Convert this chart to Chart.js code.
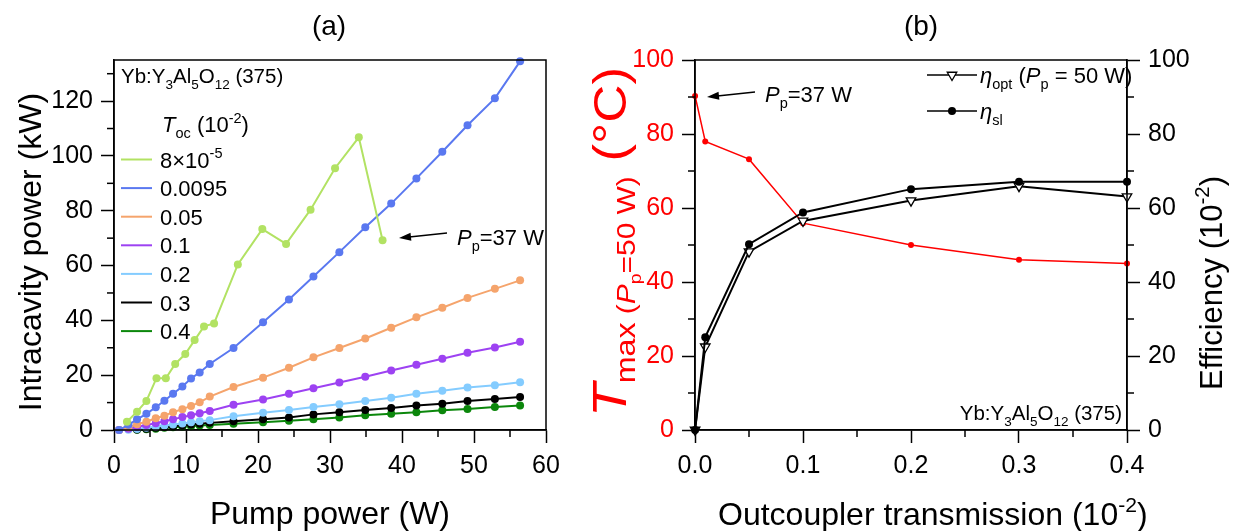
<!DOCTYPE html>
<html>
<head>
<meta charset="utf-8">
<script src="https://cdn.jsdelivr.net/npm/chart.js@4.4.0/dist/chart.umd.min.js"></script>
<style>
  body { margin: 0; background: #fff; width: 1237px; height: 531px; position: relative; overflow: hidden; }
  canvas { position: absolute; top: 0; }
  #leftChart { left: 0; }
  #rightChart { left: 560px; }
</style>
</head>
<body>
<canvas id="leftChart" width="600" height="531"></canvas>
<canvas id="rightChart" width="677" height="531"></canvas>
<script>
const FONT = "'Liberation Sans', Arial, sans-serif";

// ---- (a) intracavity power vs pump power ----
const seriesLabels = ['8×10^{-5}', '0.0095', '0.05', '0.1', '0.2', '0.3', '0.4'];
const seriesColors = ['#b2e263', '#5a78f0', '#f5a46c', '#9d42f2', '#84ccff', '#000000', '#0b870b'];

const pumpA = [1.8, 3.2, 4.5, 5.9, 7.2, 8.5, 9.9, 11.2, 12.5, 13.9, 17.2, 20.6, 23.9, 27.3, 30.7, 34.0, 37.3];
const pumpB = [0.7, 2.0, 3.2, 4.5, 5.8, 7.0, 8.2, 9.5, 10.7, 11.9, 13.3, 16.6, 20.7, 24.3, 27.7, 31.3, 34.9, 38.5, 42.0, 45.6, 49.1, 52.9, 56.4];

const power8e5   = [3.0, 6.7, 10.6, 18.9, 18.9, 24.1, 27.7, 32.8, 37.8, 38.9, 60.4, 73.3, 67.9, 80.4, 95.5, 106.8, 69.2];
const power0095  = [0, 1.9, 3.9, 5.9, 8.3, 10.7, 13.2, 15.9, 18.8, 21.0, 24.1, 29.9, 39.3, 47.6, 56.0, 64.9, 74.0, 82.6, 91.8, 101.5, 111.2, 121.0, 134.5];
const power005   = [0, 1.0, 2.1, 3.0, 4.3, 5.2, 6.5, 7.6, 8.8, 10.1, 12.2, 15.7, 19.1, 22.7, 26.5, 29.9, 33.4, 37.3, 41.1, 44.6, 48.2, 51.5, 54.6];
const power01    = [0, 0.5, 1.1, 1.8, 2.5, 3.2, 3.9, 4.7, 5.4, 6.1, 6.9, 9.2, 11.1, 13.2, 15.2, 17.3, 19.4, 21.7, 23.8, 26.0, 28.2, 30.1, 32.2];
const power02    = [0, 0.1, 0.4, 0.8, 1.2, 1.6, 2.0, 2.4, 2.8, 3.2, 3.6, 5.0, 6.3, 7.3, 8.4, 9.4, 10.6, 11.8, 13.2, 14.3, 15.5, 16.3, 17.4];
const power03    = [null, null, 0.2, 0.5, 0.8, 1.1, 1.4, 1.7, 2.0, 2.3, 2.6, 3.2, 3.9, 4.6, 5.7, 6.5, 7.3, 8.0, 8.9, 9.6, 10.6, 11.3, 12.0];
const power04    = [null, null, 0.1, 0.3, 0.5, 0.8, 1.0, 1.2, 1.4, 1.6, 1.8, 2.3, 2.8, 3.4, 3.9, 4.6, 5.4, 5.9, 6.5, 7.2, 7.7, 8.4, 8.9];

// ---- (b) vs outcoupler transmission ----
const tocValues = [0.00008, 0.0095, 0.05, 0.1, 0.2, 0.3, 0.4];
const tMax      = [90.3, 78.0, 73.2, 55.9, 50.0, 46.0, 45.0];
const etaSl     = [0, 25.1, 50.2, 58.8, 65.1, 67.1, 67.1];
const etaOpt    = [0, 22.5, 48.2, 56.5, 62.0, 65.9, 63.1];

function pairs(xs, ys) {
  return xs.map((x, i) => ({ x: x, y: ys[i] })).filter(p => p.y !== null);
}

// rich text: *italic*, _{sub}, ^{sup}
function parseRich(str, size) {
  const out = [];
  const re = /(\*[^*]+\*|_\{[^}]*\}|\^\{[^}]*\}|[^*_^]+)/g;
  let m;
  while ((m = re.exec(str))) {
    const s = m[0];
    if (s[0] === '*') out.push({ t: s.slice(1, -1), s: size, i: true, dy: 0 });
    else if (s[0] === '_') out.push({ t: s.slice(2, -1), s: size * 0.66, dy: size * 0.28 });
    else if (s[0] === '^') out.push({ t: s.slice(2, -1), s: size * 0.66, dy: -size * 0.42 });
    else out.push({ t: s, s: size, dy: 0 });
  }
  return out;
}

function rich(ctx, x, y, parts, opt) {
  opt = opt || {};
  ctx.save();
  ctx.translate(x, y);
  if (opt.rot) ctx.rotate(opt.rot);
  if (opt.sx) ctx.scale(opt.sx, 1);
  ctx.fillStyle = opt.color || '#000';
  ctx.textBaseline = 'alphabetic';
  ctx.textAlign = 'left';
  let total = 0;
  parts.forEach(p => {
    ctx.font = (p.i ? 'italic ' : '') + p.s + 'px ' + FONT;
    p.w = ctx.measureText(p.t).width;
    total += p.w;
  });
  let cx = opt.align === 'center' ? -total / 2 : opt.align === 'right' ? -total : 0;
  parts.forEach(p => {
    ctx.font = (p.i ? 'italic ' : '') + p.s + 'px ' + FONT;
    ctx.fillText(p.t, cx, p.dy);
    cx += p.w;
  });
  ctx.restore();
}

function arrow(ctx, x1, y1, x2, y2) {
  const a = Math.atan2(y2 - y1, x2 - x1);
  ctx.save();
  ctx.strokeStyle = '#000';
  ctx.fillStyle = '#000';
  ctx.lineWidth = 1.5;
  ctx.beginPath();
  ctx.moveTo(x1, y1);
  ctx.lineTo(x2 - 8 * Math.cos(a), y2 - 8 * Math.sin(a));
  ctx.stroke();
  ctx.beginPath();
  ctx.moveTo(x2, y2);
  ctx.lineTo(x2 - 12 * Math.cos(a) + 4 * Math.sin(a), y2 - 12 * Math.sin(a) - 4 * Math.cos(a));
  ctx.lineTo(x2 - 12 * Math.cos(a) - 4 * Math.sin(a), y2 - 12 * Math.sin(a) + 4 * Math.cos(a));
  ctx.closePath();
  ctx.fill();
  ctx.restore();
}

// frame + minor ticks
const frameAndMinor = {
  id: 'frameAndMinor',
  afterDraw(chart) {
    const ctx = chart.ctx;
    const a = chart.chartArea;
    ctx.save();
    ctx.strokeStyle = '#000';
    ctx.lineWidth = 1.5;
    ctx.strokeRect(a.left, a.top, a.right - a.left, a.bottom - a.top);
    Object.values(chart.scales).forEach(sc => {
      const t = sc.ticks.map(k => k.value);
      if (t.length < 2) return;
      const step = t[1] - t[0];
      for (let v = t[0] + step / 2; v <= sc.max + 1e-9; v += step) {
        const p = sc.getPixelForValue(v);
        ctx.beginPath();
        if (sc.position === 'bottom') { ctx.moveTo(p, a.bottom); ctx.lineTo(p, a.bottom + 7); }
        else if (sc.position === 'left') { ctx.moveTo(a.left, p); ctx.lineTo(a.left - 7, p); }
        else { ctx.moveTo(a.right, p); ctx.lineTo(a.right + 7, p); }
        ctx.stroke();
      }
    });
    ctx.restore();
  }
};

function axisStyle(color) {
  return {
    border: { display: true, color: '#000', width: 1.5 },
    grid: { drawOnChartArea: false, drawTicks: true, tickLength: 13, tickColor: '#000', tickWidth: 1.5 },
    ticks: { color: color || '#000', font: { family: FONT, size: 25 }, padding: 8 }
  };
}

// ---------- left chart ----------
const leftExtras = {
  id: 'leftExtras',
  afterDraw(chart) {
    const ctx = chart.ctx;
    rich(ctx, 329, 35, parseRich('(a)', 28), { align: 'center' });
    rich(ctx, 41, 252, parseRich('Intracavity power (kW)', 32), { align: 'center', rot: -Math.PI / 2 });
    rich(ctx, 330, 524, parseRich('Pump power (W)', 32), { align: 'center' });
    rich(ctx, 121, 83, parseRich('Yb:Y_{3}Al_{5}O_{12} (375)', 20.5));
    rich(ctx, 162, 132, parseRich('*T*_{oc} (10^{-2})', 22));
    chart.data.datasets.forEach((ds, i) => {
      const y = 159.5 + i * 28.6;
      ctx.save();
      ctx.strokeStyle = ds.borderColor;
      ctx.lineWidth = 2;
      ctx.beginPath();
      ctx.moveTo(121, y);
      ctx.lineTo(152, y);
      ctx.stroke();
      ctx.restore();
      rich(ctx, 160, y + 8, parseRich(seriesLabels[i], 22));
    });
    arrow(ctx, 447, 233, 399, 238);
    rich(ctx, 457, 245, parseRich('*P*_{p}=37 W', 22));
  }
};

const leftSets = [power8e5, power0095, power005, power01, power02, power03, power04].map((ys, i) => ({
  data: pairs(i === 0 ? pumpA : pumpB, ys),
  borderColor: seriesColors[i],
  backgroundColor: seriesColors[i],
  borderWidth: 2,
  pointRadius: 4,
  pointBorderWidth: 0,
  clip: false
}));

const xL = axisStyle();
xL.type = 'linear'; xL.min = 0; xL.max = 60;
xL.ticks.stepSize = 10; xL.ticks.padding = 8;
xL.afterFit = s => { s.height = 101; };
const yL = axisStyle();
yL.min = 0; yL.max = 135;
yL.ticks.stepSize = 20; yL.ticks.includeBounds = false;
yL.afterFit = s => { s.width = 114; };

new Chart(document.getElementById('leftChart'), {
  type: 'line',
  data: { datasets: leftSets },
  options: {
    responsive: false,
    animation: false,
    layout: { padding: { top: 60, right: 54, left: 0, bottom: 0 } },
    plugins: { legend: { display: false }, tooltip: { enabled: false } },
    scales: { x: xL, y: yL }
  },
  plugins: [frameAndMinor, leftExtras]
});

// ---------- right chart ----------
const rightExtras = {
  id: 'rightExtras',
  afterDraw(chart) {
    const ctx = chart.ctx;
    rich(ctx, 361, 35, parseRich('(b)', 28), { align: 'center' });
    rich(ctx, 66, 242, [
      { t: 'T', s: 48, i: true, dy: 0 },
      { t: 'max', s: 28, dy: 9 },
      { t: ' (', s: 26, dy: 9 },
      { t: 'P', s: 26, i: true, dy: 9 },
      { t: 'p', s: 17, dy: 15 },
      { t: '=50 W)', s: 26, dy: 9 },
      { t: ' (°C)', s: 46, dy: 0 }
    ], { align: 'center', rot: -Math.PI / 2, sx: 1.15, color: '#ff0000' });
    rich(ctx, 662, 283, parseRich('Efficiency (10^{-2})', 31), { align: 'center', rot: -Math.PI / 2 });
    rich(ctx, 158, 525, parseRich('Outcoupler transmission (10^{-2})', 32));
    // legend
    const rows = [
      { ds: chart.data.datasets[1], y: 75, label: '*η*_{opt} (*P*_{p} = 50 W)' },
      { ds: chart.data.datasets[0], y: 111, label: '*η*_{sl}' }
    ];
    rows.forEach(r => {
      ctx.save();
      ctx.strokeStyle = '#000';
      ctx.lineWidth = 1.5;
      ctx.beginPath();
      ctx.moveTo(367, r.y);
      ctx.lineTo(417, r.y);
      ctx.stroke();
      ctx.fillStyle = r.ds.backgroundColor;
      ctx.lineWidth = r.ds.pointBorderWidth;
      Chart.helpers.drawPoint(ctx, {
        pointStyle: r.ds.pointStyle, rotation: r.ds.rotation || 0,
        radius: r.ds.pointRadius, borderWidth: r.ds.pointBorderWidth
      }, 392, r.y);
      ctx.restore();
      rich(ctx, 420, r.y + 8, parseRich(r.label, 22));
    });
    arrow(ctx, 195, 92, 147, 97);
    rich(ctx, 205, 102, parseRich('*P*_{p}=37 W', 22));
    rich(ctx, 562, 420, parseRich('Yb:Y_{3}Al_{5}O_{12} (375)', 20.5), { align: 'right' });
  }
};

const xR = axisStyle();
xR.type = 'linear'; xR.min = 0; xR.max = 0.4;
xR.ticks.stepSize = 0.1; xR.ticks.padding = 8;
xR.ticks.callback = v => v.toFixed(1);
xR.afterFit = s => { s.height = 101; };
const yT = axisStyle('#ff0000');
yT.position = 'left'; yT.min = 0; yT.max = 100; yT.ticks.stepSize = 20;
yT.afterFit = s => { s.width = 135; };
const yE = axisStyle();
yE.position = 'right'; yE.min = 0; yE.max = 100; yE.ticks.stepSize = 20;
yE.afterFit = s => { s.width = 110; };

new Chart(document.getElementById('rightChart'), {
  type: 'line',
  data: {
    datasets: [
      {
        data: pairs(tocValues, etaSl), yAxisID: 'yE',
        borderColor: '#000', backgroundColor: '#000', borderWidth: 2,
        pointStyle: 'circle', pointRadius: 4, pointBorderWidth: 0, clip: false
      },
      {
        data: pairs(tocValues, etaOpt), yAxisID: 'yE',
        borderColor: '#000', backgroundColor: '#fff', borderWidth: 2,
        pointStyle: 'triangle', rotation: 180, pointRadius: 5.5, pointBorderWidth: 1.3, clip: false
      },
      {
        data: pairs(tocValues, tMax), yAxisID: 'yT',
        borderColor: '#ff0000', backgroundColor: '#ff0000', borderWidth: 1.5,
        pointRadius: 3, pointBorderWidth: 0, clip: false
      }
    ]
  },
  options: {
    responsive: false,
    animation: false,
    layout: { padding: { top: 60, right: 0, left: 0, bottom: 0 } },
    plugins: { legend: { display: false }, tooltip: { enabled: false } },
    scales: { x: xR, yT: yT, yE: yE }
  },
  plugins: [frameAndMinor, rightExtras]
});
</script>
</body>
</html>
